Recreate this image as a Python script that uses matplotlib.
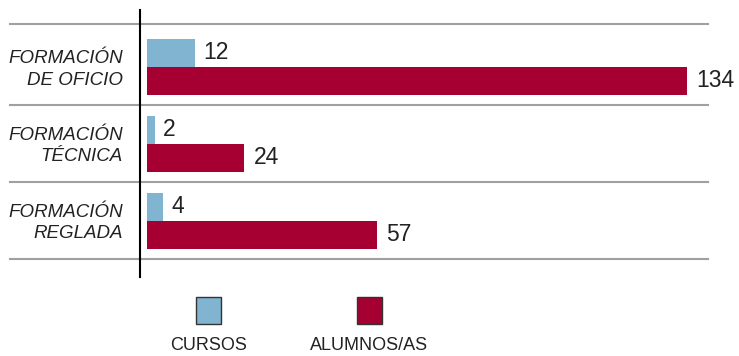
import matplotlib.pyplot as plt
import matplotlib.transforms as mtransforms
from matplotlib.patches import Rectangle

plt.rcParams['font.family'] = ['Liberation Sans', 'DejaVu Sans']

# Datos
categorias = ["FORMACIÓN\nDE OFICIO", "FORMACIÓN\nTÉCNICA", "FORMACIÓN\nREGLADA"]
cursos = [12, 2, 4]
alumnos = [134, 24, 57]
series = ["CURSOS", "ALUMNOS/AS"]

color_cursos = '#80b4d0'
color_alumnos = '#a60033'

W, H = 739, 356
fig = plt.figure(figsize=(W / 100.0, H / 100.0), dpi=100)
ax = fig.add_axes([140.0 / W, (H - 277.0) / H, 568.0 / W, 267.0 / H])

alto = 0.365
pos = list(range(len(categorias)))
ax.barh([p - alto / 2 for p in pos], cursos, height=alto, color=color_cursos)
ax.barh([p + alto / 2 for p in pos], alumnos, height=alto, color=color_alumnos)

ax.set_xlim(-7 / 4.03, (708 - 147) / 4.03)
ax.set_ylim(2.73, -0.74)

trans = mtransforms.blended_transform_factory(ax.transAxes, ax.transData)
for p, c, a in zip(pos, cursos, alumnos):
    ax.text(c + 2.0, p - alto / 2, str(c), va='center', ha='left',
            fontsize=16.5, color='#222222')
    ax.text(a + 2.4, p + alto / 2, str(a), va='center', ha='left',
            fontsize=16.5, color='#222222')
    ax.text(-0.03, p + 0.03, categorias[p], transform=trans, ha='right',
            va='center', fontsize=13.5, style='italic', color='#222222',
            linespacing=1.35)

# Lineas separadoras
for y in [-0.56, 0.49, 1.49, 2.49]:
    ax.plot([-0.229, 1.0], [y, y], transform=trans, color='#a0a0a0',
            lw=1.5, clip_on=False)

for s in ['top', 'right', 'bottom']:
    ax.spines[s].set_visible(False)
ax.spines['left'].set_color('black')
ax.spines['left'].set_linewidth(1.5)
ax.set_xticks([])
ax.set_yticks([])

# Leyenda
for nombre, color, cx in zip(series, [color_cursos, color_alumnos], [208.5, 369.5]):
    fig.add_artist(Rectangle(((cx - 12.5) / W, (H - 324.0) / H), 25.0 / W, 27.0 / H,
                             transform=fig.transFigure, facecolor=color,
                             edgecolor='#333333', lw=1.0))
    fig.text(cx / W, (H - 345.0) / H, nombre, ha='center', va='center',
             fontsize=13, color='#222222')

fig.savefig('out.png', dpi=100)
